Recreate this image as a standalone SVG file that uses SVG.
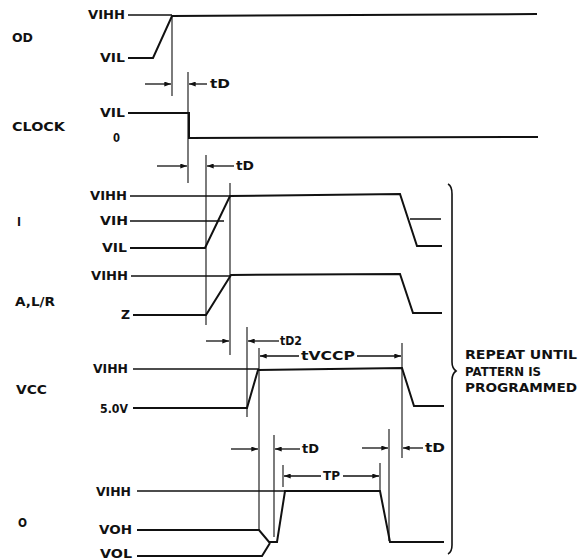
<svg xmlns="http://www.w3.org/2000/svg" width="581" height="560" viewBox="0 0 581 560">
<style>
text{font-family:"DejaVu Sans","Liberation Sans",sans-serif;font-weight:bold;font-size:11.5px;fill:#111}
.lv{text-anchor:end}
.big{font-size:12.5px}
.sig{fill:none;stroke:#111;stroke-width:2;stroke-linejoin:miter}
.lvl{fill:none;stroke:#111;stroke-width:1.4}
.vt{fill:none;stroke:#111;stroke-width:1.1}
.ar{fill:none;stroke:#111;stroke-width:1.3;marker-end:url(#ah)}
</style>
<defs>
<marker id="ah" viewBox="0 0 8 6" refX="8" refY="3" markerWidth="8" markerHeight="5" markerUnits="userSpaceOnUse" orient="auto">
<path d="M0,0 L8,3 L0,6 Z" fill="#111"/>
</marker>
</defs>
<rect width="581" height="560" fill="#fff"/>

<g id="od">
<text x="12" y="42" textLength="21" lengthAdjust="spacingAndGlyphs">OD</text>
<text class="lv" x="125" y="19" textLength="37" lengthAdjust="spacingAndGlyphs">VIHH</text>
<text class="lv" x="125" y="62" textLength="25" lengthAdjust="spacingAndGlyphs">VIL</text>
<path class="lvl" d="M128,15 H172"/>
<path class="sig" d="M128,58 H153 L172,16 L537,14"/>
</g>

<g id="clock">
<text x="12" y="131" textLength="53" lengthAdjust="spacingAndGlyphs">CLOCK</text>
<text class="lv" x="125" y="117" textLength="25" lengthAdjust="spacingAndGlyphs">VIL</text>
<text class="lv" x="120" y="142" textLength="7" lengthAdjust="spacingAndGlyphs">0</text>
<path class="sig" d="M128,113 H189 V138 L538,137"/>
</g>

<g id="i">
<text x="17" y="226" textLength="4" lengthAdjust="spacingAndGlyphs">I</text>
<text class="lv" x="127" y="200" textLength="37" lengthAdjust="spacingAndGlyphs">VIHH</text>
<text class="lv" x="128" y="225" textLength="28" lengthAdjust="spacingAndGlyphs">VIH</text>
<text class="lv" x="127" y="252" textLength="25" lengthAdjust="spacingAndGlyphs">VIL</text>
<path class="lvl" d="M130,196 H230 M130,221 H224 M410,219 H441"/>
<path class="sig" d="M130,248 H205 L230,196 L400,194 L417,246 H442"/>
</g>

<g id="alr">
<text x="15" y="306" textLength="40" lengthAdjust="spacingAndGlyphs">A,L/R</text>
<text class="lv" x="128" y="280" textLength="37" lengthAdjust="spacingAndGlyphs">VIHH</text>
<text class="lv" x="130" y="319" textLength="9" lengthAdjust="spacingAndGlyphs">Z</text>
<path class="lvl" d="M131,276 H231"/>
<path class="sig" d="M133,315 H206 L231,275 L400,274 L413,313 H442"/>
</g>

<g id="vcc">
<text x="16" y="394" textLength="31" lengthAdjust="spacingAndGlyphs">VCC</text>
<text class="lv" x="128" y="373" textLength="35" lengthAdjust="spacingAndGlyphs">VIHH</text>
<text class="lv" x="128" y="413" textLength="28" lengthAdjust="spacingAndGlyphs">5.0V</text>
<path class="lvl" d="M133,369 H259"/>
<path class="sig" d="M133,408 H247 L258,370 L402,368 L414,406 H444"/>
</g>

<g id="o">
<text x="18" y="527" textLength="9" lengthAdjust="spacingAndGlyphs">O</text>
<text class="lv" x="131" y="496" textLength="35" lengthAdjust="spacingAndGlyphs">VIHH</text>
<text class="lv" x="132" y="534" textLength="33" lengthAdjust="spacingAndGlyphs">VOH</text>
<text class="lv" x="132" y="558" textLength="32" lengthAdjust="spacingAndGlyphs">VOL</text>
<path class="lvl" d="M137,491 H285"/>
<path class="sig" d="M137,530 H259 L269,542 H277 L285,491 H380 L390,542 H444"/>
<path class="sig" d="M137,556 H262 L270,543"/>
</g>

<g id="repeat">
<path d="M448,184 Q452,186 452,194 V362 Q452,368 456,371 Q452,374 452,380 V545 Q452,552 448,554" fill="none" stroke="#111" stroke-width="1.6"/>
<text class="big" x="465" y="359" textLength="112" lengthAdjust="spacingAndGlyphs">REPEAT UNTIL</text>
<text class="big" x="465" y="376" textLength="76" lengthAdjust="spacingAndGlyphs">PATTERN IS</text>
<text class="big" x="465" y="392" textLength="112" lengthAdjust="spacingAndGlyphs">PROGRAMMED</text>
</g>

<g id="connectors">
<path class="vt" d="M172,16 V96 M188,72 V183 M206,155 V325 M230,183 V355 M247,327 V417 M259,348 V530 M274,435 V537 M283,465 V487 M380,463 V490 M389,429 V541 M402,343 V458"/>
<line class="ar" x1="145" y1="84" x2="171" y2="84"/>
<line class="ar" x1="207" y1="84" x2="189" y2="84"/>
<text x="210" y="88" textLength="20" lengthAdjust="spacingAndGlyphs">tD</text>
<line class="ar" x1="157" y1="166" x2="187" y2="166"/>
<line class="ar" x1="234" y1="166" x2="207" y2="166"/>
<text x="236" y="170" textLength="18" lengthAdjust="spacingAndGlyphs">tD</text>
<line class="ar" x1="206" y1="341" x2="229" y2="341"/>
<line class="ar" x1="279" y1="341" x2="248" y2="341"/>
<text x="280" y="345" textLength="22" lengthAdjust="spacingAndGlyphs">tD2</text>
<line class="ar" x1="299" y1="356" x2="260" y2="356"/>
<text x="301" y="360" textLength="54" lengthAdjust="spacingAndGlyphs">tVCCP</text>
<line class="ar" x1="357" y1="356" x2="401" y2="356"/>
<line class="ar" x1="231" y1="449" x2="258" y2="449"/>
<line class="ar" x1="300" y1="449" x2="275" y2="449"/>
<text x="302" y="453" textLength="17" lengthAdjust="spacingAndGlyphs">tD</text>
<line class="ar" x1="321" y1="476" x2="284" y2="476"/>
<text x="323" y="480" textLength="17" lengthAdjust="spacingAndGlyphs">TP</text>
<line class="ar" x1="343" y1="476" x2="379" y2="476"/>
<line class="ar" x1="362" y1="448" x2="388" y2="448"/>
<line class="ar" x1="423" y1="448" x2="403" y2="448"/>
<text x="425" y="452" textLength="20" lengthAdjust="spacingAndGlyphs">tD</text>
</g>
</svg>
